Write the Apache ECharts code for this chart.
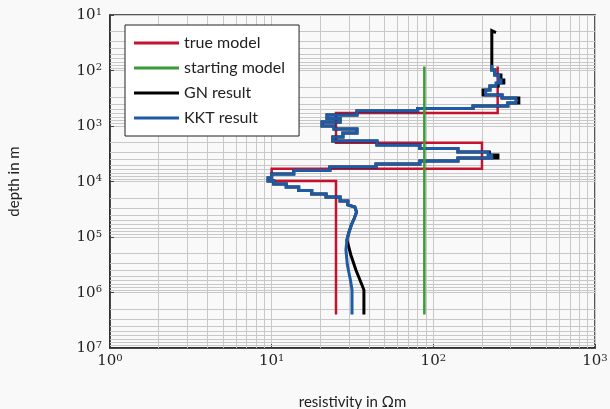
<!DOCTYPE html>
<html>
<head>
<meta charset="utf-8">
<script src="https://cdn.jsdelivr.net/npm/echarts@6/dist/echarts.min.js"></script>
<style>
  html, body { margin: 0; padding: 0; background: #f9f9f9; }
  #chart { width: 610px; height: 409px; }
</style>
</head>
<body>
<div id="chart"></div>
<script>
// layered models: rho per layer, depth boundaries (one more than rho)
const trueRho = [250, 25, 200, 10, 25];
const trueDepth = [85, 585, 2000, 5900, 9800, 2.5e6];

const startRho = [88];
const startDepth = [85, 2.5e6];

const kktRho = [230, 240, 254, 262, 244, 224, 211, 266, 324, 289, 176, 80, 33.7, 22, 26.5, 20.5, 24.3, 33.7, 27.6, 23.9,
  44.8, 82.6, 142, 218, 230, 142, 82.6, 44.2, 22.9, 13.7, 10.0, 9.5, 10.3, 12.3, 14.7, 17.7, 21.7, 26.5, 29.6];
const kktDepth = [80, 98, 120, 148, 168, 190, 225, 276, 313, 385, 436, 484, 537, 634, 732, 847, 1000, 1132, 1337, 1578, 1862,
  2198, 2541, 2937, 3333, 3776, 4276, 4841, 5481, 6339, 7326, 8650, 9795, 11090, 12560, 14520, 16790, 19010, 22450, 26500];
const kktTailRho = [32.7, 33.5, 32.5, 31.1, 30.1, 29.2, 28.8, 29.4, 30.7, 31.4, 31.4];
const kktTailDepth = [28800, 35500, 45500, 60800, 81300, 113000, 171000, 320000, 596000, 901000, 2.5e6];

const gnRho = [244, 230, 240, 262, 273, 252, 224, 203, 266, 338, 289, 176, 80, 33.7, 22, 26.5, 20.5, 24.3, 33.7, 27.6, 23.9,
  44.8, 82.6, 142, 222, 251, 142, 82.6, 44.2, 22.9, 13.7, 10.0, 9.5, 10.3, 12.3, 14.7, 17.7, 21.7, 26.5, 29.6];
const gnDepth = [20.8, 19.2, 98, 120, 148, 168, 190, 225, 276, 313, 385, 436, 484, 537, 634, 732, 847, 1000, 1132, 1337, 1578, 1862,
  2198, 2541, 2937, 3333, 3776, 4276, 4841, 5481, 6339, 7326, 8650, 9795, 11090, 12560, 14520, 16790, 19010, 22450, 26500];
const gnTailRho = [32.7, 33.5, 32.5, 31.1, 30.1, 29.2, 30.9, 33.2, 36.2, 37.2, 37.2];
const gnTailDepth = [28800, 35500, 45500, 60800, 81300, 113000, 211000, 394000, 733000, 901000, 2.5e6];

const seriesNames = ['true model', 'starting model', 'GN result', 'KKT result'];

// minor grid positions (2..9 in each decade)
const minorX = [];
const minorY = [];
for (let e = 0; e < 3; e++) for (let m = 2; m < 10; m++) minorX.push(m * Math.pow(10, e));
for (let e = 1; e < 7; e++) for (let m = 2; m < 10; m++) minorY.push(m * Math.pow(10, e));

function steps(rho, depth, tailRho, tailDepth) {
  const pts = [];
  rho.forEach((r, i) => {
    pts.push([r, depth[i]], [r, depth[i + 1]]);
  });
  if (tailRho) tailRho.forEach((r, i) => pts.push([r, tailDepth[i]]));
  return pts;
}

const supLabel = function (v) {
  return '{b|10}{s|' + Math.round(Math.log10(v)) + '}';
};
const labelRich = {
  b: { fontFamily: 'DejaVu Serif', fontSize: 15, color: '#222', lineHeight: 16, padding: [4, 0, 0, 0], verticalAlign: 'bottom' },
  s: { fontFamily: 'DejaVu Serif', fontSize: 10, color: '#222', lineHeight: 12, verticalAlign: 'top' }
};

const gridLine = { color: '#c8c8c8', width: 1, type: 'solid' };

const chart = echarts.init(document.getElementById('chart'));
chart.setOption({
  animation: false,
  backgroundColor: '#f9f9f9',
  grid: {
    left: 110, right: 15, top: 15, bottom: 61,
    outerBoundsMode: 'none', containLabel: false,
    show: true, borderColor: '#222', borderWidth: 1.5, backgroundColor: '#f9f9f9'
  },
  legend: {
    data: seriesNames,
    z: 20,
    orient: 'vertical',
    left: 125, top: 25,
    padding: [10, 14, 10, 9],
    itemGap: 9,
    itemWidth: 45,
    itemHeight: 3,
    icon: 'rect',
    backgroundColor: '#ffffff',
    borderColor: '#222',
    borderWidth: 1,
    textStyle: { fontFamily: 'Lato', fontSize: 16, color: '#222', lineHeight: 16 }
  },
  xAxis: {
    type: 'log', logBase: 10, min: 1, max: 1000, splitNumber: 3,
    name: 'resistivity in Ωm', nameLocation: 'middle', nameGap: 47,
    nameTextStyle: { fontFamily: 'Lato', fontSize: 15, color: '#222' },
    axisLine: { show: true, onZero: false, lineStyle: { color: '#222', width: 1.5 } },
    axisTick: { show: true, inside: true, length: 4, lineStyle: { color: '#444' } },
    axisLabel: { formatter: supLabel, rich: labelRich, margin: 5 },
    splitLine: { show: true, lineStyle: gridLine }
  },
  yAxis: {
    type: 'log', logBase: 10, min: 10, max: 1e7, splitNumber: 6, inverse: true,
    name: 'depth in m', nameLocation: 'middle', nameGap: 88, nameRotate: 90,
    nameTextStyle: { fontFamily: 'Lato', fontSize: 15, color: '#222' },
    axisLine: { show: true, onZero: false, lineStyle: { color: '#222', width: 1.5 } },
    axisTick: { show: true, inside: true, length: 4, lineStyle: { color: '#444' } },
    axisLabel: { formatter: supLabel, rich: labelRich, margin: 8 },
    splitLine: { show: true, lineStyle: gridLine }
  },
  series: [
    {
      name: 'grid', type: 'line', data: [], z: 1, silent: true,
      markLine: {
        z: 1, silent: true, symbol: ['none', 'none'], label: { show: false },
        lineStyle: gridLine, emphasis: { disabled: true },
        data: minorX.map(v => ({ xAxis: v })).concat(minorY.map(v => ({ yAxis: v })))
      }
    },
    {
      name: 'true model', type: 'line', data: steps(trueRho, trueDepth), z: 3,
      showSymbol: false, symbol: 'none', color: '#c4122f',
      lineStyle: { width: 2.5, color: '#c4122f', join: 'miter' }
    },
    {
      name: 'GN result', type: 'line', data: steps(gnRho, gnDepth, gnTailRho, gnTailDepth), z: 4,
      showSymbol: false, symbol: 'none', color: '#000000',
      lineStyle: { width: 3, color: '#000000', join: 'miter' }
    },
    {
      name: 'KKT result', type: 'line', data: steps(kktRho, kktDepth, kktTailRho, kktTailDepth), z: 5,
      showSymbol: false, symbol: 'none', color: '#1f5aa6',
      lineStyle: { width: 3, color: '#1f5aa6', join: 'miter' }
    },
    {
      name: 'starting model', type: 'line', data: steps(startRho, startDepth), z: 6,
      showSymbol: false, symbol: 'none', color: '#3a9a35',
      lineStyle: { width: 2.5, color: '#3a9a35' }
    }
  ]
});
</script>
</body>
</html>
